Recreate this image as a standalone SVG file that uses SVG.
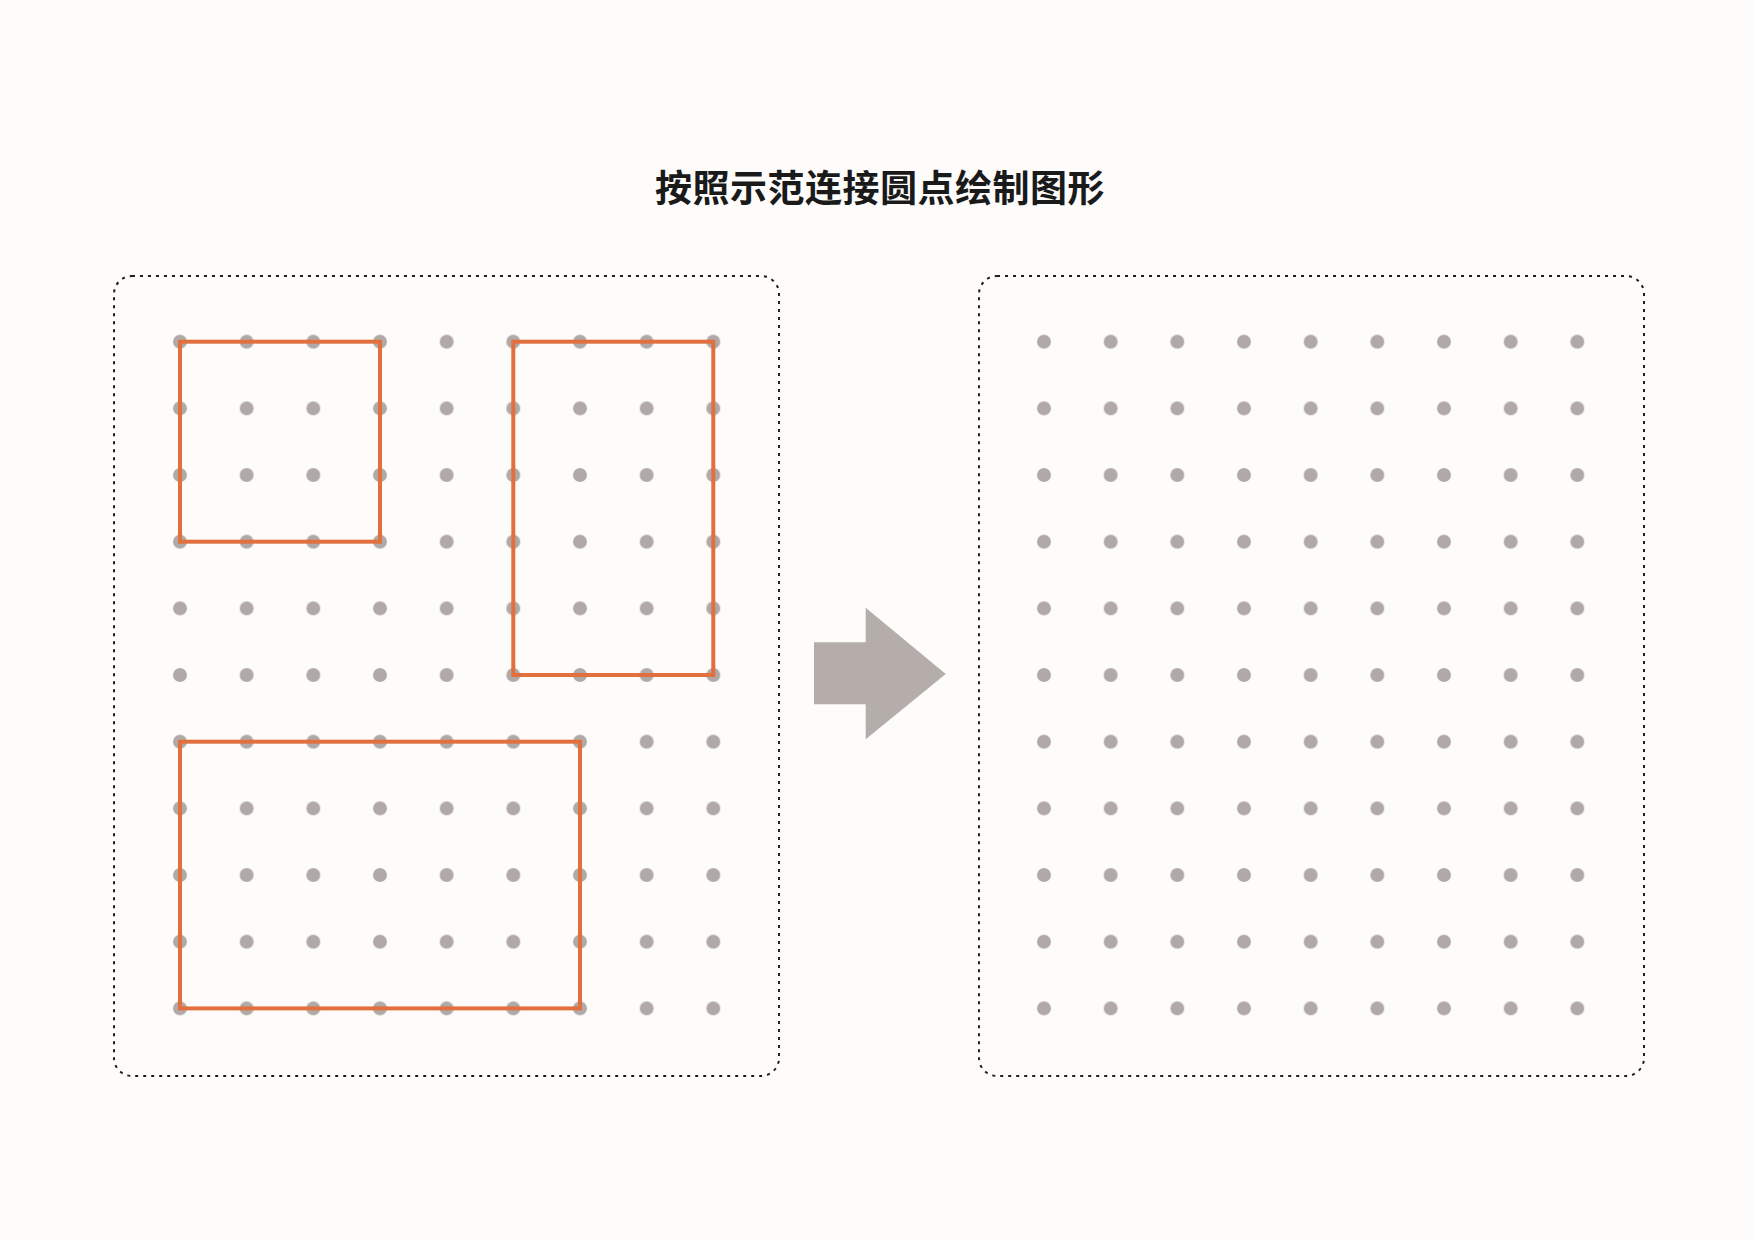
<svg xmlns="http://www.w3.org/2000/svg" width="1754" height="1240" viewBox="0 0 1754 1240">
<defs>
<style>
.bg{fill:#fdfcfa}
.frame{fill:none;stroke:#1e1e1e;stroke-width:2;stroke-dasharray:3 5}
.dot{fill:#b1a9a7}
.shape{fill:none;stroke:#e2703f;stroke-width:4;stroke-linejoin:miter}
.title{font-family:"Noto Sans CJK SC","Noto Sans",sans-serif;font-weight:bold;font-size:37px;letter-spacing:0.5px;fill:#1a1a1a}
.arrow{fill:#b4ada9}
</style>
<pattern id="grid" x="1044" y="341.7" width="66.667" height="66.667" patternUnits="userSpaceOnUse">
<circle class="dot" cx="0" cy="0" r="7"/>
<circle class="dot" cx="66.667" cy="0" r="7"/>
<circle class="dot" cx="0" cy="66.667" r="7"/>
<circle class="dot" cx="66.667" cy="66.667" r="7"/>
</pattern>
<pattern id="gridL" x="180" y="341.7" width="66.667" height="66.667" patternUnits="userSpaceOnUse">
<circle class="dot" cx="0" cy="0" r="7"/>
<circle class="dot" cx="66.667" cy="0" r="7"/>
<circle class="dot" cx="0" cy="66.667" r="7"/>
<circle class="dot" cx="66.667" cy="66.667" r="7"/>
</pattern>
</defs>
<rect class="bg" x="0" y="0" width="1754" height="1240"/>
<text class="title" x="880" y="202" text-anchor="middle">按照示范连接圆点绘制图形</text>

<g id="left-panel">
<rect class="frame" x="114" y="276" width="665" height="800" rx="18" ry="18"/>
<rect x="172" y="333.7" width="549.4" height="682.6" fill="url(#gridL)"/>
</g>

<g id="examples">
<rect id="square" class="shape" x="180" y="341.7" width="200" height="200"/>
<rect id="tall-rect" class="shape" x="513.3" y="341.7" width="200" height="333.3"/>
<rect id="wide-rect" class="shape" x="180" y="741.7" width="400" height="266.7"/>
</g>

<g id="arrow">
<polygon class="arrow" points="814,642.3 865.7,642.3 865.7,607.7 945.7,674 865.7,739.3 865.7,704.3 814,704.3"/>
</g>

<g id="right-panel">
<rect class="frame" x="979" y="276" width="665" height="800" rx="18" ry="18"/>
<rect x="1036" y="333.7" width="549.4" height="682.6" fill="url(#grid)"/>
</g>

<g id="connectors"></g>
</svg>
